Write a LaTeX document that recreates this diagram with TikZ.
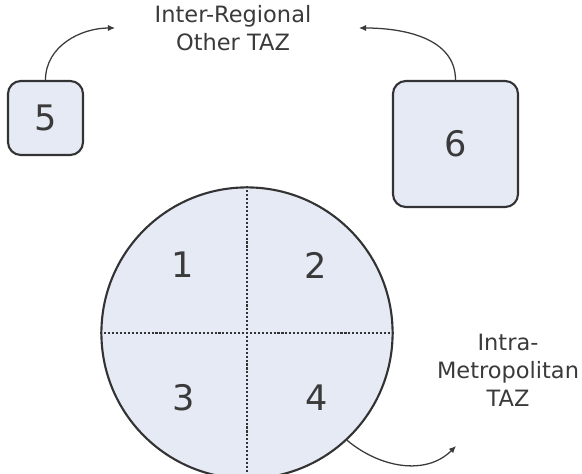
\documentclass[tikz,border=0pt]{standalone}
\usepackage{fontspec}
\setmainfont{DejaVu Sans}
\usetikzlibrary{arrows.meta,positioning}
\definecolor{zonefill}{HTML}{E5EAF5}
\definecolor{edge}{HTML}{333333}
\definecolor{ink}{HTML}{3A3A3A}

\begin{document}
\begin{tikzpicture}[>=Latex,
  zone/.style={draw=edge,line width=1.5pt,fill=zonefill,rounded corners=0.32cm,inner sep=0pt},
  digit/.style={text=ink,font=\fontsize{25}{30}\selectfont},
  tazlabel/.style={text=ink,align=center,font=\fontsize{16}{19.5}\selectfont},
  flow/.style={-{Latex[length=5pt,width=4.5pt]},draw=ink,line width=0.9pt},
  divider/.style={draw=edge,line width=1.8pt,dash pattern=on 1.5pt off 1.3pt}]
  \useasboundingbox (0,0) rectangle (14.55,11.825);
  \node[zone,minimum width=1.875cm,minimum height=1.85cm,digit] (z5) at (1.1375,8.875) {5};
  \node[zone,minimum width=3.125cm,minimum height=3.15cm,digit] (z6) at (11.3875,8.225) {6};
  \node[circle,draw=edge,line width=1.5pt,fill=zonefill,minimum size=7.28cm,inner sep=0pt] (metro) at (6.175,3.5) {};
  \draw[divider] (metro.north) -- (metro.south);
  \draw[divider] (metro.west) -- (metro.east);
  \node[digit] (q1) at (4.575,5.2) {1};
  \node[digit] (q2) at (7.9,5.2) {2};
  \node[digit] (q3) at (4.6,1.875) {3};
  \node[digit] (q4) at (7.925,1.875) {4};
  \node[tazlabel] (inter) at (5.825,11.125) {Inter-Regional\\Other TAZ};
  \node[tazlabel,font=\fontsize{16}{20}\selectfont] (intra) at (12.7,2.575) {Intra-\\Metropolitan\\TAZ};
  \coordinate (out5) at (2.875,11.125);
  \coordinate (out6) at (8.975,11.125);
  \coordinate (outm) at (11.4,0.675);
  \draw[flow] (z5.north) to[out=90,in=180] (out5);
  \draw[flow] (z6.north) to[out=90,in=0] (out6);
  \draw[flow] (metro.-47) to[out=-40,in=-135] (outm);
\end{tikzpicture}
\end{document}
